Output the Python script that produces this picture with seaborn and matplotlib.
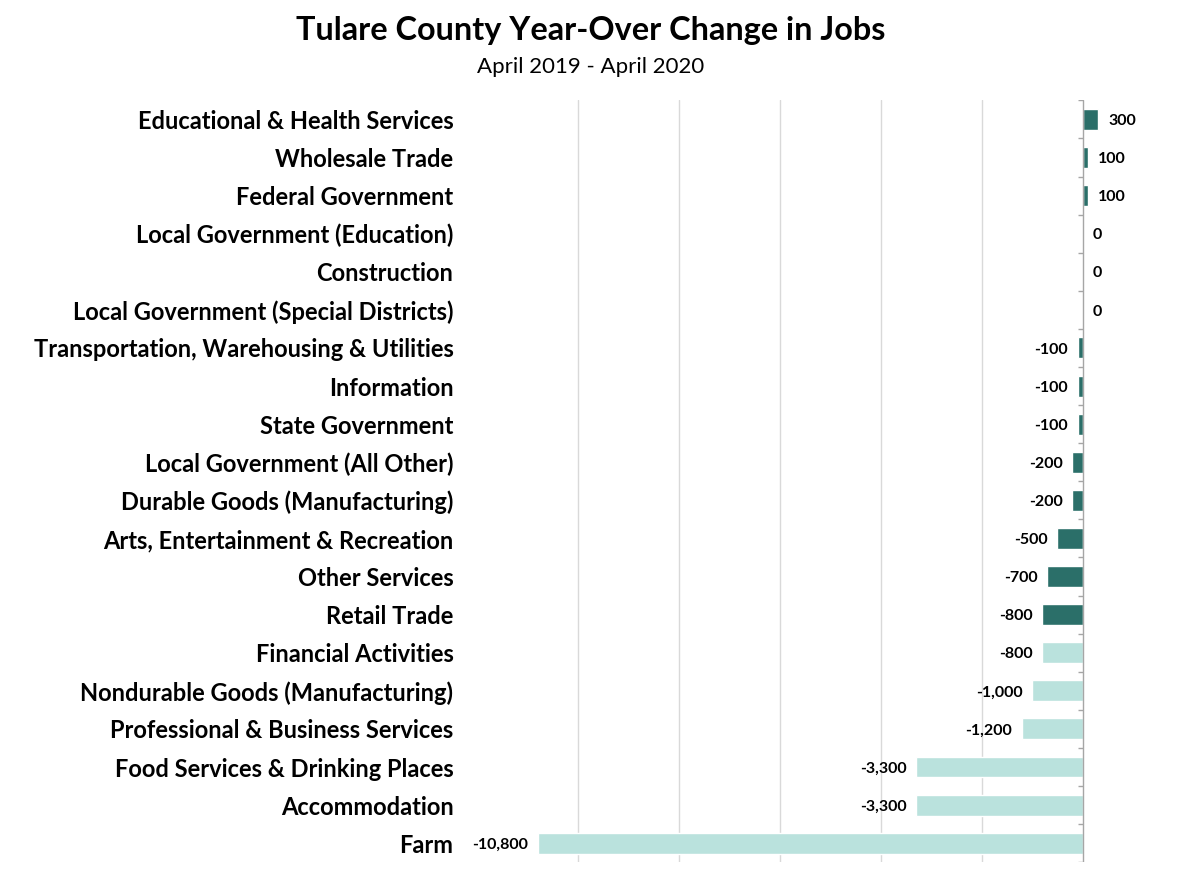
"""
Tulare County year-over change in jobs, horizontal bar chart
"""
import matplotlib
matplotlib.use("Agg")
import matplotlib.pyplot as plt
import numpy as np
import pandas as pd
import seaborn as sns

industries = [
    "Educational & Health Services",
    "Wholesale Trade",
    "Federal Government",
    "Local Government (Education)",
    "Construction",
    "Local Government (Special Districts)",
    "Transportation, Warehousing & Utilities",
    "Information",
    "State Government",
    "Local Government (All Other)",
    "Durable Goods (Manufacturing)",
    "Arts, Entertainment & Recreation",
    "Other Services",
    "Retail Trade",
    "Financial Activities",
    "Nondurable Goods (Manufacturing)",
    "Professional & Business Services",
    "Food Services & Drinking Places",
    "Accommodation",
    "Farm",
]
job_change = [300, 100, 100, 0, 0, 0, -100, -100, -100, -200, -200,
              -500, -700, -800, -800, -1000, -1200, -3300, -3300, -10800]
group = ["dark"] * 14 + ["light"] * 6

DARK = "#2b6f69"
LIGHT = "#bae2dd"
AXIS_GREY = "#a6a6a6"

df = pd.DataFrame({"industry": industries, "change": job_change, "group": group})

sns.set_style("white")
plt.rcParams["font.family"] = ["Lato", "DejaVu Sans"]
plt.rcParams["text.color"] = "black"

fig = plt.figure(figsize=(12, 8.88), dpi=100)
ax = fig.add_axes([0.3975, 0.029, 0.5467, 0.858])

sns.barplot(data=df, x="change", y="industry", hue="group",
            palette={"dark": DARK, "light": LIGHT}, dodge=False,
            legend=False, width=0.55, saturation=1, ax=ax)

xmin, xmax = -12000, 1000
ax.set_xlim(xmin, xmax)
ax.set_ylim(len(industries) - 0.5, -0.5)

# light vertical gridlines
for gx in range(-10000, 0, 2000):
    ax.axvline(gx, color="#d9d9d9", lw=1, zorder=0)

ax.set_xticks([])
ax.set_xlabel("")
ax.set_ylabel("")
for s in ax.spines.values():
    s.set_visible(False)
ax.tick_params(axis="y", length=0, pad=17, labelcolor="black")
for lab in ax.get_yticklabels():
    lab.set_fontsize(17)
    lab.set_fontweight("bold")

# zero axis line with category boundary ticks
ax.axvline(0, color=AXIS_GREY, lw=1, zorder=3)
ax.hlines(np.arange(-0.5, len(industries), 1.0), -100, 0,
          color=AXIS_GREY, lw=1, zorder=3)

# value labels
for i, v in enumerate(job_change):
    txt = f"{v:,}"
    if v >= 0:
        ax.annotate(txt, (v, i), xytext=(7.5, -1.2), textcoords="offset points",
                    ha="left", va="center", fontsize=11.5, fontweight="bold")
    else:
        ax.annotate(txt, (v, i), xytext=(-7, -1.2), textcoords="offset points",
                    ha="right", va="center", fontsize=11.5, fontweight="bold")

fig.text(0.492, 0.966, "Tulare County Year-Over Change in Jobs",
         ha="center", va="center", fontsize=23.3, fontweight="bold")
fig.text(0.492, 0.925, "April 2019 - April 2020",
         ha="center", va="center", fontsize=16)

fig.savefig("out.png", dpi=100)
